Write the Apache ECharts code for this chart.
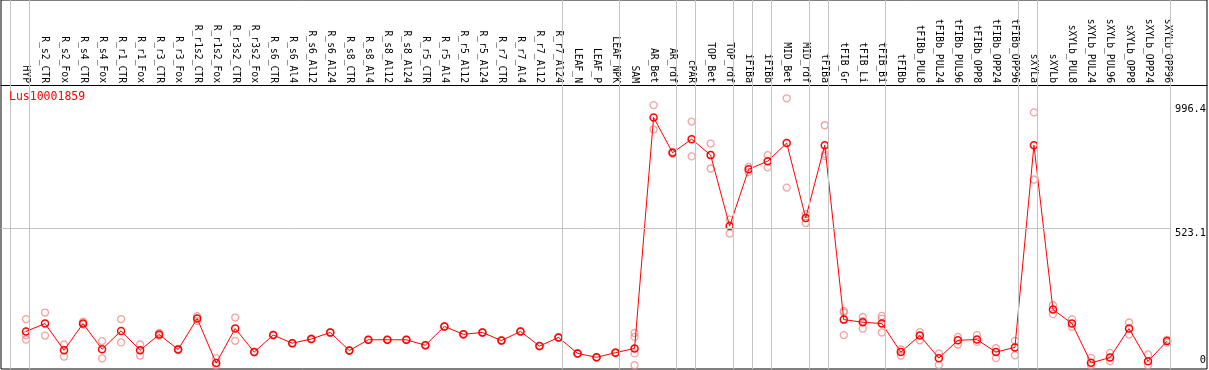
<!DOCTYPE html>
<html>
<head>
<meta charset="utf-8">
<script src="https://cdn.jsdelivr.net/npm/echarts@6/dist/echarts.min.js"></script>
<style>
html,body{margin:0;padding:0;background:#fff;}
#chart{width:1209px;height:370px;}
</style>
</head>
<body>
<div id="chart"></div>
<script>
const seriesName = 'Lus10001859';
const categories = ['HYP','R_s2_CTR','R_s2_Fox','R_s4_CTR','R_s4_Fox','R_r1_CTR','R_r1_Fox','R_r3_CTR','R_r3_Fox',
  'R_r1s2_CTR','R_r1s2_Fox','R_r3s2_CTR','R_r3s2_Fox','R_s6_CTR','R_s6_Al4','R_s6_Al12','R_s6_Al24',
  'R_s8_CTR','R_s8_Al4','R_s8_Al12','R_s8_Al24','R_r5_CTR','R_r5_Al4','R_r5_Al12','R_r5_Al24',
  'R_r7_CTR','R_r7_Al4','R_r7_Al12','R_r7_Al24','LEAF_N','LEAF_P','LEAF_NPK','SAM','AR_Bet','AR_rdf',
  'cPAR','TOP_Bet','TOP_rdf','iFIBa','iFIBb','MID_Bet','MID_rdf','tFIBa','tFIB_Gr','tFIB_Li','tFIB_Bi',
  'tFIBb','tFIBb_PUL8','tFIBb_PUL24','tFIBb_PUL96','tFIBb_OPP8','tFIBb_OPP24','tFIBb_OPP96',
  'sXYLa','sXYLb','sXYLb_PUL8','sXYLb_PUL24','sXYLb_PUL96','sXYLb_OPP8','sXYLb_OPP24','sXYLb_OPP96'];
const meanValues = [129,159,57,159,61,131,57,117,60,178,8,140,50,115,84,100,125,
  56,97,97,97,76,148,118,125,94,129,73,106,45,30,48,64,946,811,
  863,802,531,748,779,848,562,840,174,164,159,
  50,113,27,95,98,50,68,
  840,213,159,9,29,140,15,92];
const replicates = [[176,115,98],[201,113],[79,33],[166,155],[92,26],[176,87],[79,37],[123,112],[62,58],
  [187,169],[26,0],[182,93],[51,49],[116,114],[85,83],[101,99],[126,124],
  [57,55],[98,96],[98,96],[98,96],[77,75],[149,147],[119,117],[126,124],
  [95,93],[130,128],[74,72],[107,105],[46,44],[31,29],[49,47],[123,108,45,0],[993,900],[814,808],
  [930,797],[846,751],[556,503],[757,738],[802,755],[1019,678],[577,543],[916,806,798],[207,201,115],[184,168,140],[188,178,125],
  [60,37],[126,95],[45,1],[108,79],[115,89],[65,27],[93,38],
  [965,709],[229,195],[176,146],[28,0],[47,16],[163,117],[41,0],[97,86]];
const yTickLabels = [523.1, 996.4];
const yZeroLabel = [0];
const groupEnds = [-1,0,28,31,34,35,37,38,39,41,42,45,52,53,60];

const SEP_OFFSET = 0.19;
const X_MIN = -1.3146, X_MAX = 62.10;
const Y_MIN = -14.5, Y_MAX = 1394.2;

const meanData = meanValues.map((v, i) => [i, v]);
const repData = [];
replicates.forEach((arr, i) => arr.forEach(v => repData.push([i, v])));
const catIdx = categories.map((c, i) => i);

const chart = echarts.init(document.getElementById('chart'), null, {renderer: 'canvas'});
const mono = 'DejaVu Sans Mono';
chart.setOption({
  animation: false,
  backgroundColor: '#ffffff',
  title: {
    text: seriesName, left: 9, top: 91, padding: 0,
    textStyle: {color: '#ff0000', fontFamily: mono, fontSize: 11.5, fontWeight: 'normal'}
  },
  grid: {left: 1, right: 2, top: 0, bottom: 1, show: true, borderColor: '#000', borderWidth: 1, backgroundColor: 'transparent'},
  xAxis: {
    type: 'value', position: 'top', offset: -85, min: X_MIN, max: X_MAX,
    axisLine: {show: true, onZero: false, lineStyle: {color: '#000', width: 1}},
    axisTick: {show: false},
    splitLine: {show: false},
    axisLabel: {
      customValues: catIdx, rotate: 90, margin: 2, color: '#000', fontFamily: mono, fontSize: 9.7,
      hideOverlap: false,
      formatter: v => categories[Math.round(v)]
    }
  },
  yAxis: [{
    type: 'value', position: 'right', min: Y_MIN, max: Y_MAX,
    axisLine: {show: false}, axisTick: {show: false}, splitLine: {show: false},
    axisLabel: {customValues: yTickLabels, inside: true, margin: 1, align: 'right', verticalAlign: 'top',
      color: '#000', fontFamily: mono, fontSize: 10.3, formatter: v => String(v)}
  }, {
    type: 'value', position: 'right', min: Y_MIN, max: Y_MAX,
    axisLine: {show: false}, axisTick: {show: false}, splitLine: {show: false},
    axisLabel: {customValues: yZeroLabel, inside: true, margin: 1, align: 'right', verticalAlign: 'bottom',
      color: '#000', fontFamily: mono, fontSize: 10.3, formatter: v => String(v)}
  }],
  series: [{
    type: 'line', data: [], silent: true,
    markLine: {
      silent: true, symbol: 'none', label: {show: false},
      lineStyle: {color: '#c4c4c4', type: 'solid', width: 1},
      data: groupEnds.map(g => ({xAxis: g + SEP_OFFSET}))
        .concat([[{coord: [X_MIN, yTickLabels[0]]}, {coord: [groupEnds[groupEnds.length - 1] + SEP_OFFSET, yTickLabels[0]]}]])
    }
  }, {
    type: 'scatter', name: 'replicates', data: repData, symbol: 'circle', symbolSize: 7,
    itemStyle: {color: 'rgba(0,0,0,0)', borderColor: '#ef8c8c', borderWidth: 1.3},
    silent: true
  }, {
    type: 'line', name: seriesName, data: meanData, symbol: 'circle', symbolSize: 7,
    showAllSymbol: true,
    lineStyle: {color: '#ff0000', width: 1},
    itemStyle: {color: 'rgba(0,0,0,0)', borderColor: '#ff0000', borderWidth: 1.5},
    silent: true
  }]
});
</script>
</body>
</html>
